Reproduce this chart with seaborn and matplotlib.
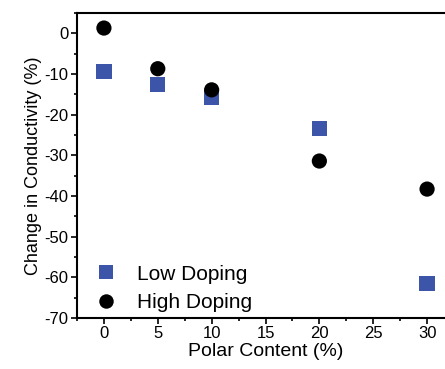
import numpy as np
import pandas as pd
import seaborn as sns
import matplotlib.pyplot as plt
from matplotlib.ticker import MultipleLocator

# data
polar = [0, 5, 10, 20, 30]
low_doping = [-9.3, -12.6, -15.8, -23.4, -61.6]
high_doping = [1.3, -8.7, -13.9, -31.4, -38.3]

df = pd.DataFrame({
    "Polar Content (%)": polar * 2,
    "Change in Conductivity (%)": low_doping + high_doping,
    "Series": ["Low Doping"] * len(polar) + ["High Doping"] * len(polar),
})

sns.set_style("ticks")
plt.rcParams['font.family'] = ['Liberation Sans', 'DejaVu Sans']
plt.rcParams.update({
    'text.color': 'black', 'axes.labelcolor': 'black',
    'xtick.color': 'black', 'ytick.color': 'black',
    'axes.edgecolor': 'black', 'axes.unicode_minus': False,
})

fig = plt.figure(figsize=(4.45, 3.69), dpi=100)
ax = fig.add_axes([77 / 445, 1 - 318 / 369, 377 / 445, 305 / 369])

sns.scatterplot(
    data=df, x="Polar Content (%)", y="Change in Conductivity (%)",
    hue="Series", style="Series",
    palette={"Low Doping": "#3d55a8", "High Doping": "#000000"},
    markers={"Low Doping": "s", "High Doping": "o"},
    s=120, linewidth=0, ax=ax,
)

ax.set_xlim(-2.5, 32.5)
ax.set_ylim(-70, 5)
ax.xaxis.set_major_locator(MultipleLocator(5))
ax.xaxis.set_minor_locator(MultipleLocator(2.5))
ax.yaxis.set_major_locator(MultipleLocator(10))
ax.yaxis.set_minor_locator(MultipleLocator(5))
ax.tick_params(which="major", length=4, width=1.2, labelsize=12, pad=2)
ax.tick_params(which="minor", length=2.5, width=1.2)
for sp in ax.spines.values():
    sp.set_linewidth(1.5)

ax.set_xlabel("Polar Content (%)", fontsize=14, labelpad=1)
ax.set_ylabel("Change in Conductivity (%)", fontsize=13, labelpad=2)

leg = ax.legend(loc="lower left", bbox_to_anchor=(0.048, 0.02),
                frameon=False, fontsize=15, title=None,
                handlelength=1.0, handletextpad=1.0, borderpad=0,
                borderaxespad=0, labelspacing=0.45, markerscale=0.95)

fig.savefig("out.png", dpi=100)
